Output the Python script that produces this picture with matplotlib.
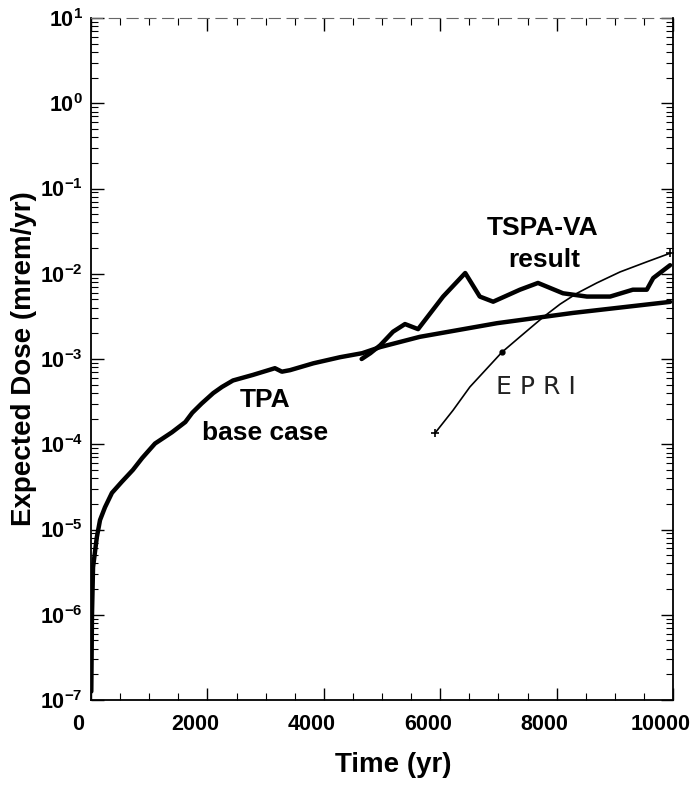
import matplotlib
matplotlib.use("Agg")
import matplotlib.pyplot as plt
import matplotlib.transforms as mtransforms
from matplotlib.ticker import MultipleLocator, LogLocator, NullFormatter, FixedLocator
import numpy as np

plt.rcParams['font.family'] = ['Liberation Sans', 'DejaVu Sans']
plt.rcParams['mathtext.fontset'] = 'custom'
plt.rcParams['mathtext.rm'] = 'Liberation Sans:bold'
plt.rcParams['mathtext.bf'] = 'Liberation Sans:bold'
plt.rcParams['mathtext.default'] = 'bf'

# TPA base case expected dose (mrem/yr)
tpa_t = [5, 17, 35, 100, 155, 240, 360, 530, 720, 880, 1100, 1390, 1620, 1740,
         1900, 2100, 2250, 2440, 2780, 3160, 3280, 3420, 3820, 4280, 4660, 4970,
         5650, 6975, 8280, 9950]
tpa_dose = [1.26e-7, 1.0e-6, 3.6e-6, 8.1e-6, 1.29e-5, 1.82e-5, 2.69e-5, 3.63e-5,
            5.0e-5, 6.9e-5, 1.02e-4, 1.38e-4, 1.82e-4, 2.34e-4, 3.0e-4, 3.98e-4,
            4.7e-4, 5.6e-4, 6.5e-4, 7.8e-4, 7.1e-4, 7.4e-4, 8.9e-4, 1.05e-3,
            1.17e-3, 1.38e-3, 1.82e-3, 2.63e-3, 3.47e-3, 4.68e-3]

# TSPA-VA result
tspa_t = [4650, 4800, 4970, 5190, 5395, 5620, 6050, 6430, 6680, 6910, 7370, 7680,
          8110, 8520, 8920, 9310, 9550, 9660, 9950]
tspa_dose = [1.0e-3, 1.17e-3, 1.45e-3, 2.09e-3, 2.57e-3, 2.24e-3, 5.4e-3, 1.02e-2,
             5.4e-3, 4.7e-3, 6.5e-3, 7.8e-3, 5.9e-3, 5.4e-3, 5.4e-3, 6.5e-3,
             6.5e-3, 8.9e-3, 1.26e-2]

# EPRI estimate
epri_t = [5910, 6220, 6510, 7060, 7370, 7770, 8060, 8350, 8690, 9090, 9550, 9950]
epri_dose = [1.35e-4, 2.5e-4, 4.7e-4, 1.2e-3, 1.82e-3, 3.1e-3, 4.4e-3, 5.9e-3,
             7.8e-3, 1.05e-2, 1.38e-2, 1.74e-2]

x_ticks = [0, 2000, 4000, 6000, 8000, 10000]
y_exps = list(range(-7, 2))

fig = plt.figure(figsize=(6.96, 7.91), dpi=100)
ax = fig.add_axes([91/696, 91/791, 582/696, 682/791])

thick = dict(color='black', lw=3.2, solid_joinstyle='round', solid_capstyle='round')
ax.plot(tpa_t, tpa_dose, **thick)
ax.plot(tspa_t, tspa_dose, **thick)
ax.plot(epri_t, epri_dose, color='black', lw=1.2, solid_joinstyle='round')
ax.plot([epri_t[0], epri_t[-1]], [epri_dose[0], epri_dose[-1]], ls='none',
        marker='+', ms=6, mew=1.2, color='black')
ax.plot([epri_t[3]], [epri_dose[3]], ls='none', marker='o', ms=3.5, color='black')

ax.set_yscale('log')
ax.set_xlim(0, 10000)
ax.set_ylim(1e-7, 1e1)

ax.xaxis.set_major_locator(FixedLocator(x_ticks))
ax.xaxis.set_minor_locator(MultipleLocator(500))
ax.set_xticklabels([str(v) for v in x_ticks])
ax.yaxis.set_major_locator(FixedLocator([10.0**e for e in y_exps]))
ax.yaxis.set_minor_locator(LogLocator(base=10, subs=np.arange(2, 10)))
ax.yaxis.set_minor_formatter(NullFormatter())
ax.set_yticklabels([r'$\mathbf{10^{%d}}$' % e for e in y_exps])

ax.tick_params(which='both', direction='in', top=True, right=True, labelsize=15.5)
ax.tick_params(which='major', length=9, width=1.0)
ax.tick_params(which='minor', length=5, width=0.8)
ax.tick_params(axis='x', pad=10)
ax.tick_params(axis='y', pad=6)
for lab in ax.get_xticklabels():
    lab.set_fontweight('bold')
    lab.set_transform(lab.get_transform() + mtransforms.ScaledTranslation(-0.125, 0, fig.dpi_scale_trans))

for side in ['left', 'bottom', 'right']:
    ax.spines[side].set_linewidth(1.3)
ax.spines['top'].set_linewidth(0.8)
ax.spines['top'].set_color('#666666')
ax.spines['top'].set_linestyle((0, (10, 6)))

ax.set_xlabel('Time (yr)', fontsize=20, fontweight='bold')
ax.xaxis.set_label_coords(0.52, -0.076)
ax.set_ylabel('Expected Dose (mrem/yr)', fontsize=20, fontweight='bold')
ax.yaxis.set_label_coords(-0.093, 0.5)

lbl = dict(ha='center', va='center', fontsize=19, fontweight='bold')
ax.text(2990, 10**-3.48, 'TPA', **lbl)
ax.text(2990, 10**-3.87, 'base case', **lbl)
ax.text(7766, 10**-1.46, 'TSPA-VA', **lbl)
ax.text(7784, 10**-1.84, 'result', **lbl)
ax.text(7640, 10**-3.33, 'E P R I', ha='center', va='center', fontsize=18,
        family=['DejaVu Sans'], color='#222222')

fig.savefig('out.png', dpi=100)
